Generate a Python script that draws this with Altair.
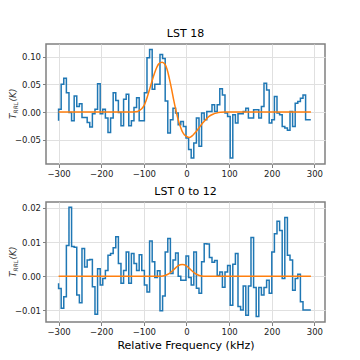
import altair as alt
import pandas as pd

# Frequency grid of the spectra (kHz)
freq_start = -300.0
freq_step = 6.1

# LST 18 spectrum (K)
top_tb = [
    -0.016, 0.005, 0.050, 0.061, 0.035, -0.001, -0.016, 0.029, 0.010, 0.015,
    -0.010, -0.010, -0.019, -0.027, -0.003, 0.005, 0.051, -0.003, 0.005, -0.011,
    -0.037, -0.011, 0.035, 0.021, -0.001, -0.025, 0.023, 0.032, -0.025, -0.016,
    0.008, 0.026, -0.016, -0.016, 0.035, 0.098, 0.113, 0.041, 0.050, 0.050,
    0.104, 0.097, 0.020, -0.038,
    -0.014, 0.007, -0.002, -0.023, -0.017, -0.026, -0.047, -0.068, -0.083, -0.056,
    -0.011, -0.062, -0.002, -0.014, 0.001, 0.001, 0.013, 0.001, 0.013, 0.042,
    0.031, -0.002, -0.008, -0.083,
    -0.005, -0.020, -0.003, -0.003, 0.001, 0.007, -0.011, -0.011, 0.004, 0.004,
    -0.011, 0.010, 0.052, 0.040, -0.020, -0.014, 0.028, -0.002, -0.005, -0.026,
    -0.029, -0.033, 0.001, -0.026, 0.016, 0.019, 0.025, 0.031, -0.014, -0.014,
]

# LST 0 to 12 spectrum (K)
bottom_tb = [
    -0.0021, -0.0036, -0.0094, -0.0060, 0.0090, 0.0202, 0.0087, 0.0085, -0.0055, -0.0078,
    0.0081, 0.0027, 0.0047, 0.0049, -0.0031, -0.0111, 0.0022, -0.0026, -0.0007, 0.0017,
    0.0061, 0.0066, 0.0083, 0.0115, 0.0037, -0.0021, 0.0017, 0.0071, -0.0021, 0.0066,
    0.0037, 0.0017, 0.0063, 0.0017, -0.0026, -0.0046, 0.0103, 0.0042, -0.0004, 0.0016,
    -0.0101, -0.0058, 0.0071, 0.0110,
    0.0008, 0.0047, 0.0068, 0.0000, -0.0012, -0.0012, 0.0059, -0.0004, -0.0026, 0.0071,
    -0.0035, -0.0050, 0.0042, 0.0095, 0.0094, 0.0055, 0.0041, 0.0046, 0.0002, 0.0012,
    -0.0032, 0.0012, 0.0031, -0.0085, 0.0035,
    0.0066, -0.0089, -0.0099, -0.0029, -0.0114, -0.0029, 0.0113, -0.0033, -0.0118, -0.0033,
    -0.0055, -0.0033, -0.0012, -0.0050, 0.0071, 0.0124, 0.0161, 0.0134, -0.0007, 0.0172,
    0.0061, 0.0047, -0.0041, -0.0007, 0.0006, -0.0075, -0.0099, -0.0099, -0.0099,
]

# Fitted line models
top_model_freq = [-300, -130, -120, -115, -110, -105, -100, -95, -90, -85, -80, -75, -70,
                  -65, -57, -50, -45, -40, -35, -30, -25, -20, -15, -10, -5, 0, 7, 15,
                  22, 30, 38, 45, 53, 62, 70, 80, 90, 292]
top_model_tb = [0, 0, 0.0005, 0.001, 0.003, 0.006, 0.011, 0.020, 0.032, 0.045, 0.058, 0.070,
                0.080, 0.087, 0.090, 0.086, 0.076, 0.060, 0.042, 0.022, 0.004, -0.012,
                -0.025, -0.035, -0.041, -0.044, -0.046, -0.042, -0.036, -0.028, -0.020,
                -0.014, -0.008, -0.004, -0.002, -0.0005, 0, 0]

bottom_model_freq = [-300, -60, -50, -40, -30, -20, -10, 0, 10, 20, 30, 40, 292]
bottom_model_tb = [0, 0, 0.0002, 0.0008, 0.0019, 0.0030, 0.0034, 0.0030, 0.0019,
                   0.0008, 0.0002, 0, 0]

x_ticks = [-300, -200, -100, 0, 100, 200, 300]
top_yticks = [-0.05, 0.0, 0.05, 0.10]
bottom_yticks = [-0.01, 0.0, 0.01, 0.02]

# y-axis title pieces: T with subscript RRL, then (K)
ytitle_parts = ["T", "RRL", "(K)"]

BLUE = "#1f77b4"
ORANGE = "#ff7f0e"
FONT = "DejaVu Sans"
W, H = 279, 120


def panel(title, tb, mfreq, mtb, ydomain, yticks, xtitle):
    df = pd.DataFrame({"f": [freq_start + freq_step * i for i in range(len(tb))], "t": tb})
    mdf = pd.DataFrame({"f": mfreq, "t": mtb})
    one = pd.DataFrame({"k": [0]})
    x = alt.X("f:Q",
              scale=alt.Scale(domain=[-329.5, 325], nice=False, zero=False),
              axis=alt.Axis(values=x_ticks, tickCount=20, format="d", title=xtitle,
                            labelOverlap=False, labelFlush=False))
    y = alt.Y("t:Q",
              scale=alt.Scale(domain=ydomain, nice=False, zero=False),
              axis=alt.Axis(values=yticks, tickCount=20, format=".2f", title=None,
                            labelOverlap=False, labelFlush=False))
    step = alt.Chart(df).mark_line(interpolate="step-before", color=BLUE,
                                   strokeWidth=1.5).encode(x=x, y=y)
    model = alt.Chart(mdf).mark_line(interpolate="monotone", color=ORANGE,
                                     strokeWidth=1.5).encode(x="f:Q", y="t:Q")
    cy = H / 2
    common = dict(angle=270, align="left", baseline="middle", font=FONT,
                  fontStyle="italic", color="#333333")
    t1 = alt.Chart(one).mark_text(text=ytitle_parts[0], fontSize=9, **common
                                  ).encode(x=alt.value(-33), y=alt.value(cy + 15))
    t2 = alt.Chart(one).mark_text(text=ytitle_parts[1], fontSize=6, **common
                                  ).encode(x=alt.value(-30.5), y=alt.value(cy + 9.5))
    t3 = alt.Chart(one).mark_text(text=ytitle_parts[2], fontSize=9, **common
                                  ).encode(x=alt.value(-33), y=alt.value(cy - 2.5))
    return alt.layer(step, model, t1, t2, t3).properties(
        width=W, height=H,
        title=alt.TitleParams(title, font=FONT, fontSize=11, fontWeight="normal",
                              color="black", offset=5))


top = panel("LST 18", top_tb, top_model_freq, top_model_tb, [-0.094, 0.123], top_yticks, None)
bottom = panel("LST 0 to 12", bottom_tb, bottom_model_freq, bottom_model_tb,
               [-0.0134, 0.0217], bottom_yticks, "Relative Frequency (kHz)")

chart = alt.vconcat(top, bottom, spacing=6).properties(
    padding={"left": 0, "top": 19, "right": 5, "bottom": 5}
).configure_view(
    stroke="#808080", strokeWidth=1.5
).configure_axis(
    domain=False, grid=True, gridColor="#e0e0e0", gridWidth=1,
    tickColor="#808080", tickSize=3.5, labelPadding=2,
    labelFont=FONT, labelFontSize=8.5, labelColor="#222222",
    titleFont=FONT, titleFontSize=11, titleFontWeight="normal", titleColor="black",
    titlePadding=3
).configure_title(anchor="middle")

chart.save("out.html", embed_options={"renderer": "svg", "actions": False})
